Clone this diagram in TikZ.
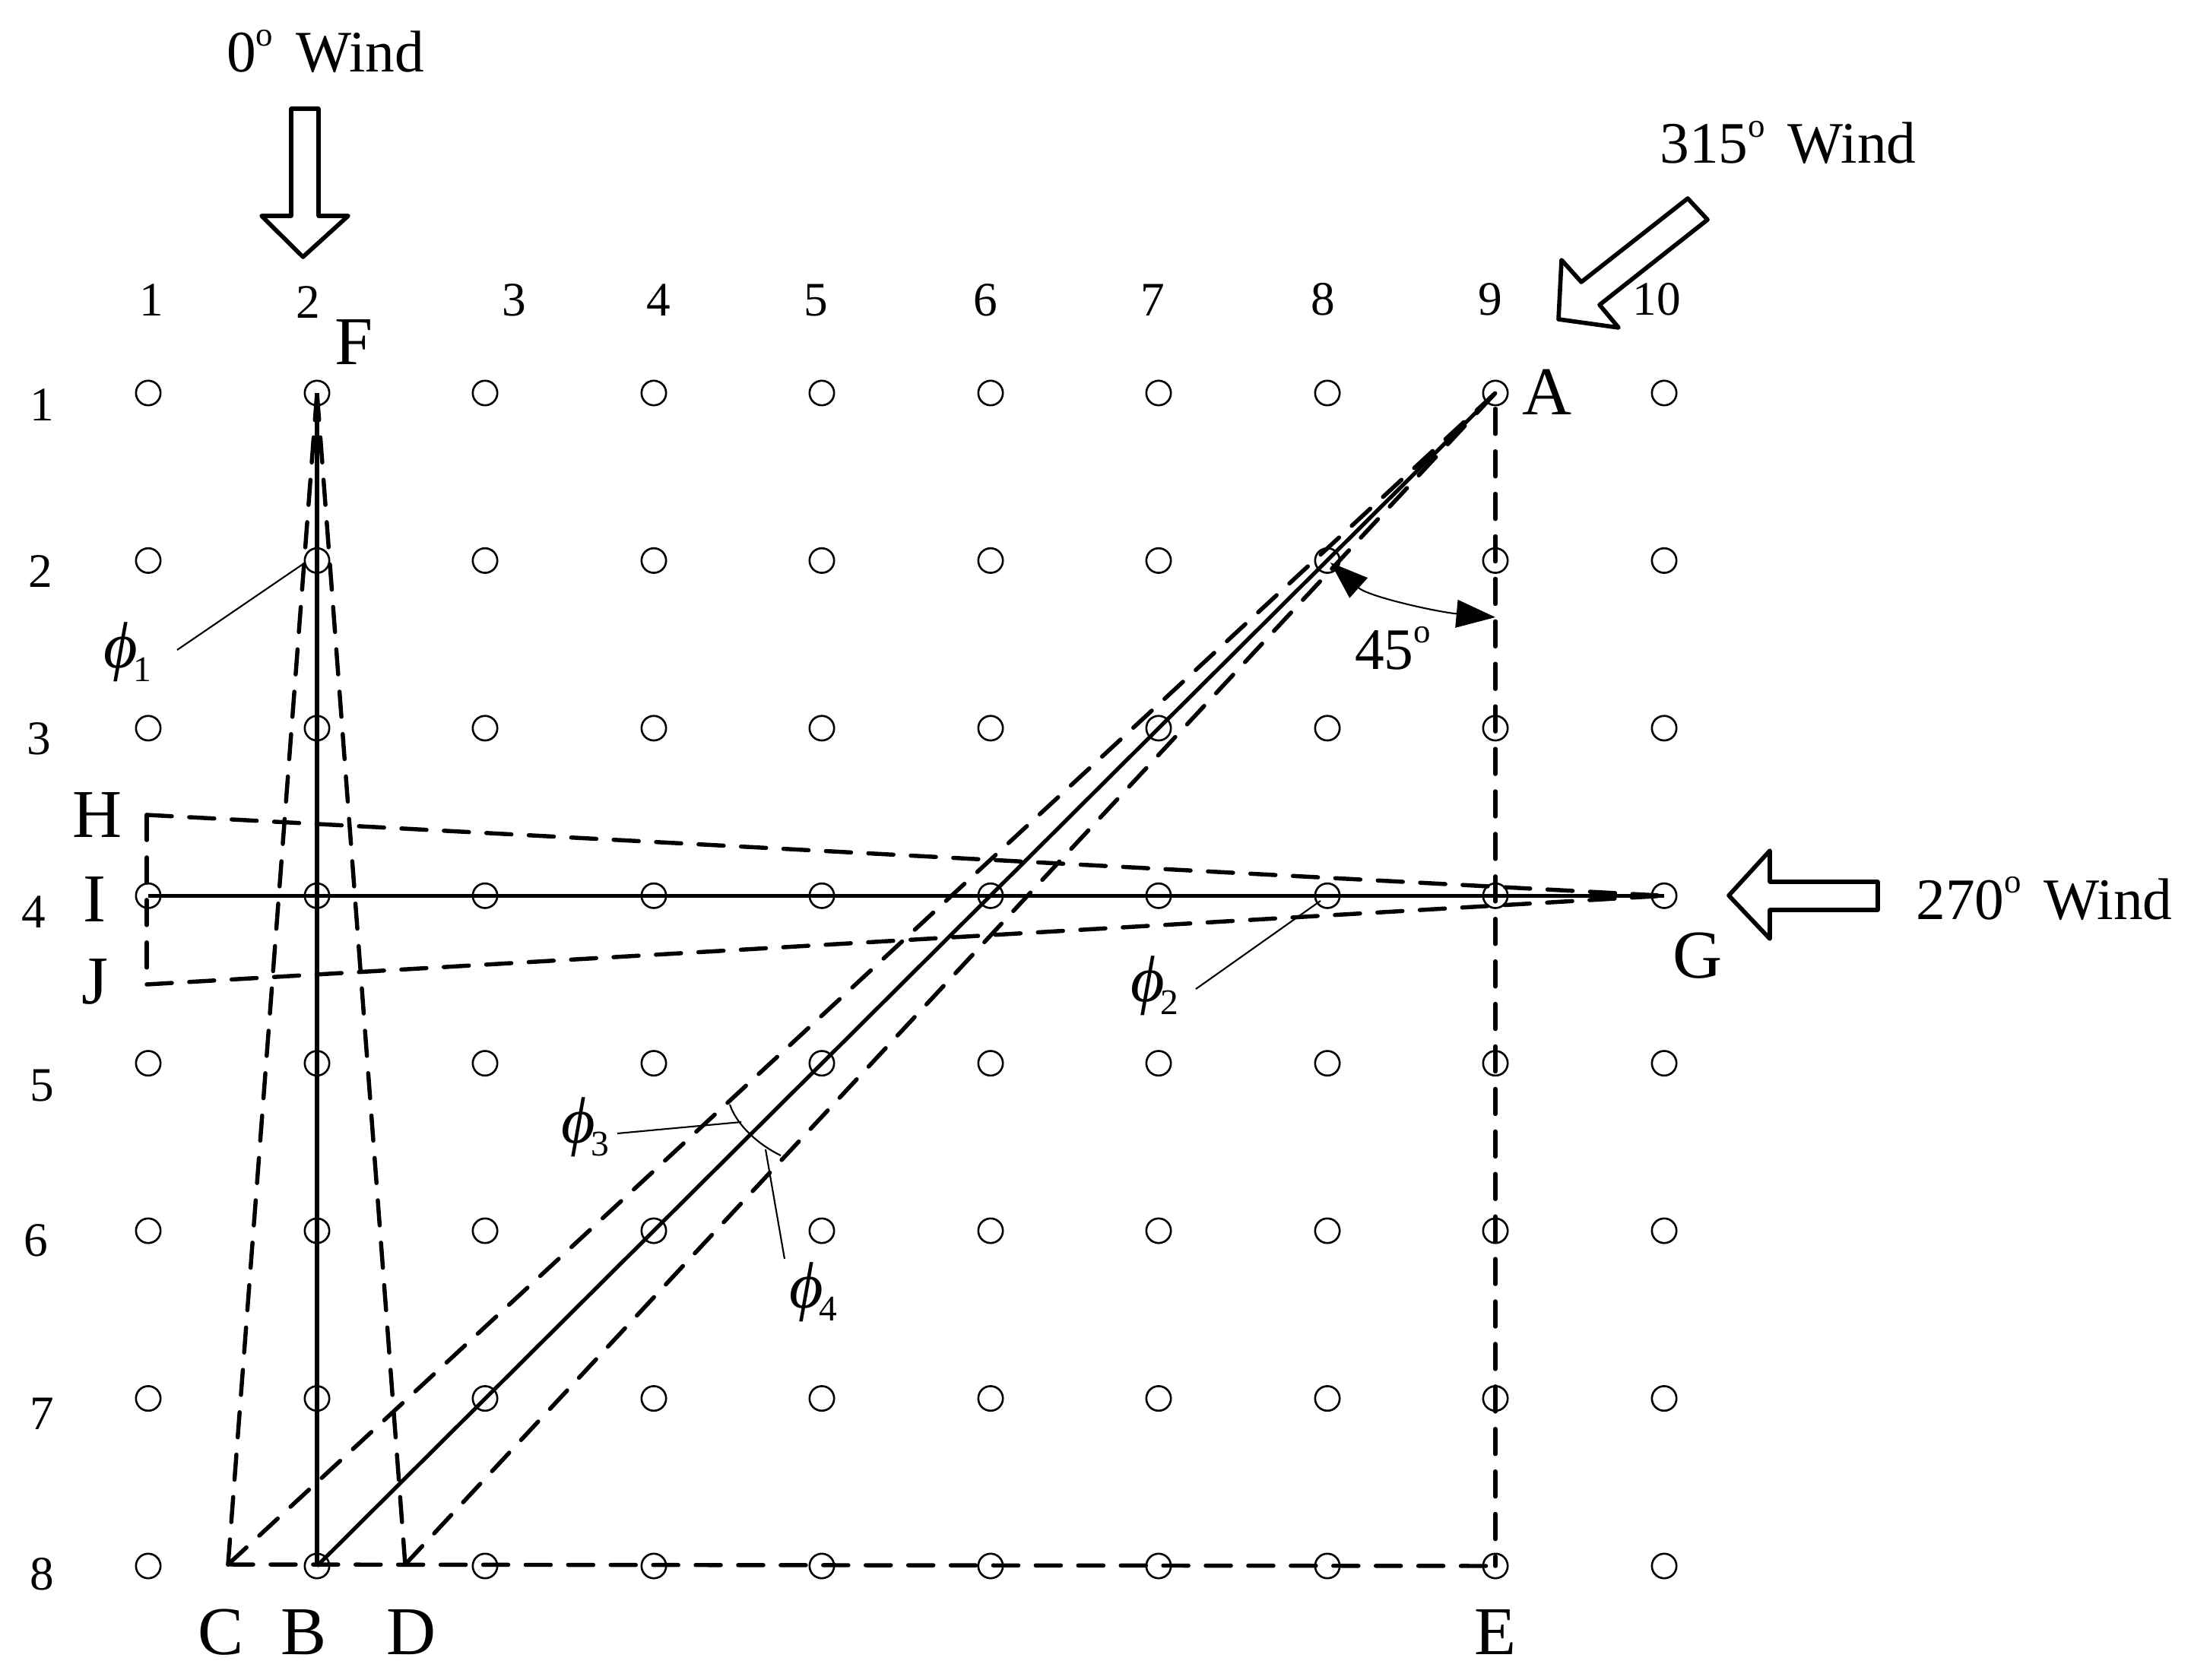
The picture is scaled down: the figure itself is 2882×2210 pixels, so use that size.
\documentclass[tikz,border=0pt]{standalone}
\usepackage{fontspec}
\usepackage{graphicx}
\setmainfont{Liberation Serif}
\usetikzlibrary{arrows.meta}
\newcommand\phisub[1]{{\fontsize{24.5}{24.5}\selectfont\itshape ϕ}\kern-1.6pt\raisebox{-5pt}{\fontsize{13.5}{13.5}\selectfont #1}}
\newcommand\degsup{\raisebox{0.44em}{\scalebox{0.58}{o}}}
\tikzset{
  x=0.01cm,y=-0.01cm,
  gridpt/.style={circle,draw,line width=0.75pt,minimum size=9.2pt,inner sep=0pt},
  numlab/.style={inner sep=0pt,font=\fontsize{18}{18}\selectfont},
  letlab/.style={inner sep=0pt,anchor=base,font=\fontsize{25.6}{25.6}\selectfont},
  windlab/.style={inner sep=0pt,anchor=base,font=\fontsize{22}{22}\selectfont},
  philab/.style={inner sep=0pt,anchor=base west},
  solidline/.style={line width=1.45pt},
  dashline/.style={line width=1.55pt,line cap=round,dash pattern=on 9.4pt off 6.5pt},
  thinline/.style={line width=0.6pt},
  windarrow/.style={line width=1.6pt,line join=round},
  angarrow/.style={line width=0.6pt,{Triangle[length=14.2pt,width=10pt]}-{Triangle[length=14.6pt,width=10.4pt]}},
}
\begin{document}
\begin{tikzpicture}
\useasboundingbox (0,0) rectangle (2882,2210);
% grid
\foreach \c/\x in {1/195,2/417,3/638,4/860,5/1081,6/1303,7/1524,8/1746,9/1967,10/2189}
  \foreach \r/\y in {1/517,2/737.4,3/957.9,4/1178.3,5/1398.7,6/1619,7/1839.6,8/2060}
    \node[gridpt] (p\c-\r) at (\x,\y) {};
% column labels
\foreach \t/\x/\y in {1/199/416,2/405/419,3/676/416,4/866/416,5/1073/416,6/1296/416,7/1516/416,8/1740/415,9/1960/415,10/2179/415}
  \node[numlab,anchor=base] (col\t) at (\x,\y) {\t};
% row labels
\foreach \t/\x/\y in {1/55/533,2/53/752,3/51/972,4/44/1200,5/55/1428,6/47/1632,7/55/1860,8/55/2071}
  \node[numlab] (row\t) at (\x,\y) {\t};
% key points
\coordinate (A) at (p9-1);
\coordinate (B) at (p2-8);
\coordinate (F) at (p2-1);
\coordinate (G) at (p10-4);
\coordinate (I) at (p1-4);
\coordinate (E) at (p9-8);
\coordinate (C) at (300,2058);
\coordinate (D) at (533,2058);
\coordinate (H) at (193,1072);
\coordinate (J) at (193,1295);
% solid lines
\draw[solidline] (F) -- (B);
\draw[solidline] (A) -- (B);
\draw[solidline] (I) -- (G);
% dashed lines
\draw[dashline] (C) -- (A);
\draw[dashline] (D) -- (A);
\draw[dashline] (C) -- (F);
\draw[dashline] (D) -- (F);
\draw[dashline] (H) -- (G);
\draw[dashline] (J) -- (G);
\draw[dashline] (H) -- (J);
\draw[dashline] (C) -- (E);
\draw[dashline,dash phase=10pt] (A) -- (E);
% angle marks and leaders
\coordinate (ph3a) at (960,1453);
\coordinate (ph4a) at (1027,1520);
\draw[thinline] (ph3a) .. controls (970,1482) and (1000,1507) .. (ph4a);
\coordinate (l1a) at (233,855); \coordinate (l1b) at (400,741);
\coordinate (l2a) at (1573,1301); \coordinate (l2b) at (1737,1185);
\coordinate (l3a) at (812,1491); \coordinate (l3b) at (975,1476);
\coordinate (l4a) at (1032,1656); \coordinate (l4b) at (1007,1512);
\draw[thinline] (l1a) -- (l1b);
\draw[thinline] (l2a) -- (l2b);
\draw[thinline] (l3a) -- (l3b);
\draw[thinline] (l4a) -- (l4b);
\coordinate (ang1) at (1750,740);
\coordinate (ang2) at (1967,812);
\draw[angarrow] (ang1) .. controls (1800,785) and (1890,805) .. (ang2);
% wind arrows
\draw[windarrow] (383,143) -- (419,143) -- (419,284) -- (458,284) -- (398.5,338) -- (344,284) -- (383,284) -- cycle;
\draw[windarrow] (2220,261) -- (2246,289) -- (2104,401) -- (2129,431) -- (2050,420) -- (2054,342) -- (2080,371) -- cycle;
\draw[windarrow] (2470,1160) -- (2328,1160) -- (2328,1119) -- (2274,1178) -- (2328,1235) -- (2328,1197) -- (2470,1197) -- cycle;
% letters
\node[letlab] (lF) at (466,480) {F};
\node[letlab] (lA) at (2035,546) {A};
\node[letlab] (lG) at (2233,1286) {G};
\node[letlab] (lH) at (128,1101) {H};
\node[letlab] (lI) at (124,1212) {I};
\node[letlab] (lJ) at (125,1320) {J};
\node[letlab] (lC) at (291,2176) {C};
\node[letlab] (lB) at (400,2176) {B};
\node[letlab] (lD) at (541,2176) {D};
\node[letlab] (lE) at (1967,2176) {E};
% wind labels
\node[windlab] (w0) at (428,95) {0\degsup\ \kern3pt Wind};
\node[windlab] (w315) at (2352,215) {315\degsup\ \kern3pt Wind};
\node[windlab] (w270) at (2689,1209) {270\degsup\ \kern3pt Wind};
\node[windlab] (w45) at (1832,880) {45\degsup};
% phi labels
\node[philab] (f1) at (136,879) {\phisub{1}};
\node[philab] (f2) at (1487,1317) {\phisub{2}};
\node[philab] (f3) at (738,1503) {\phisub{3}};
\node[philab] (f4) at (1038,1720) {\phisub{4}};
\end{tikzpicture}
\end{document}
